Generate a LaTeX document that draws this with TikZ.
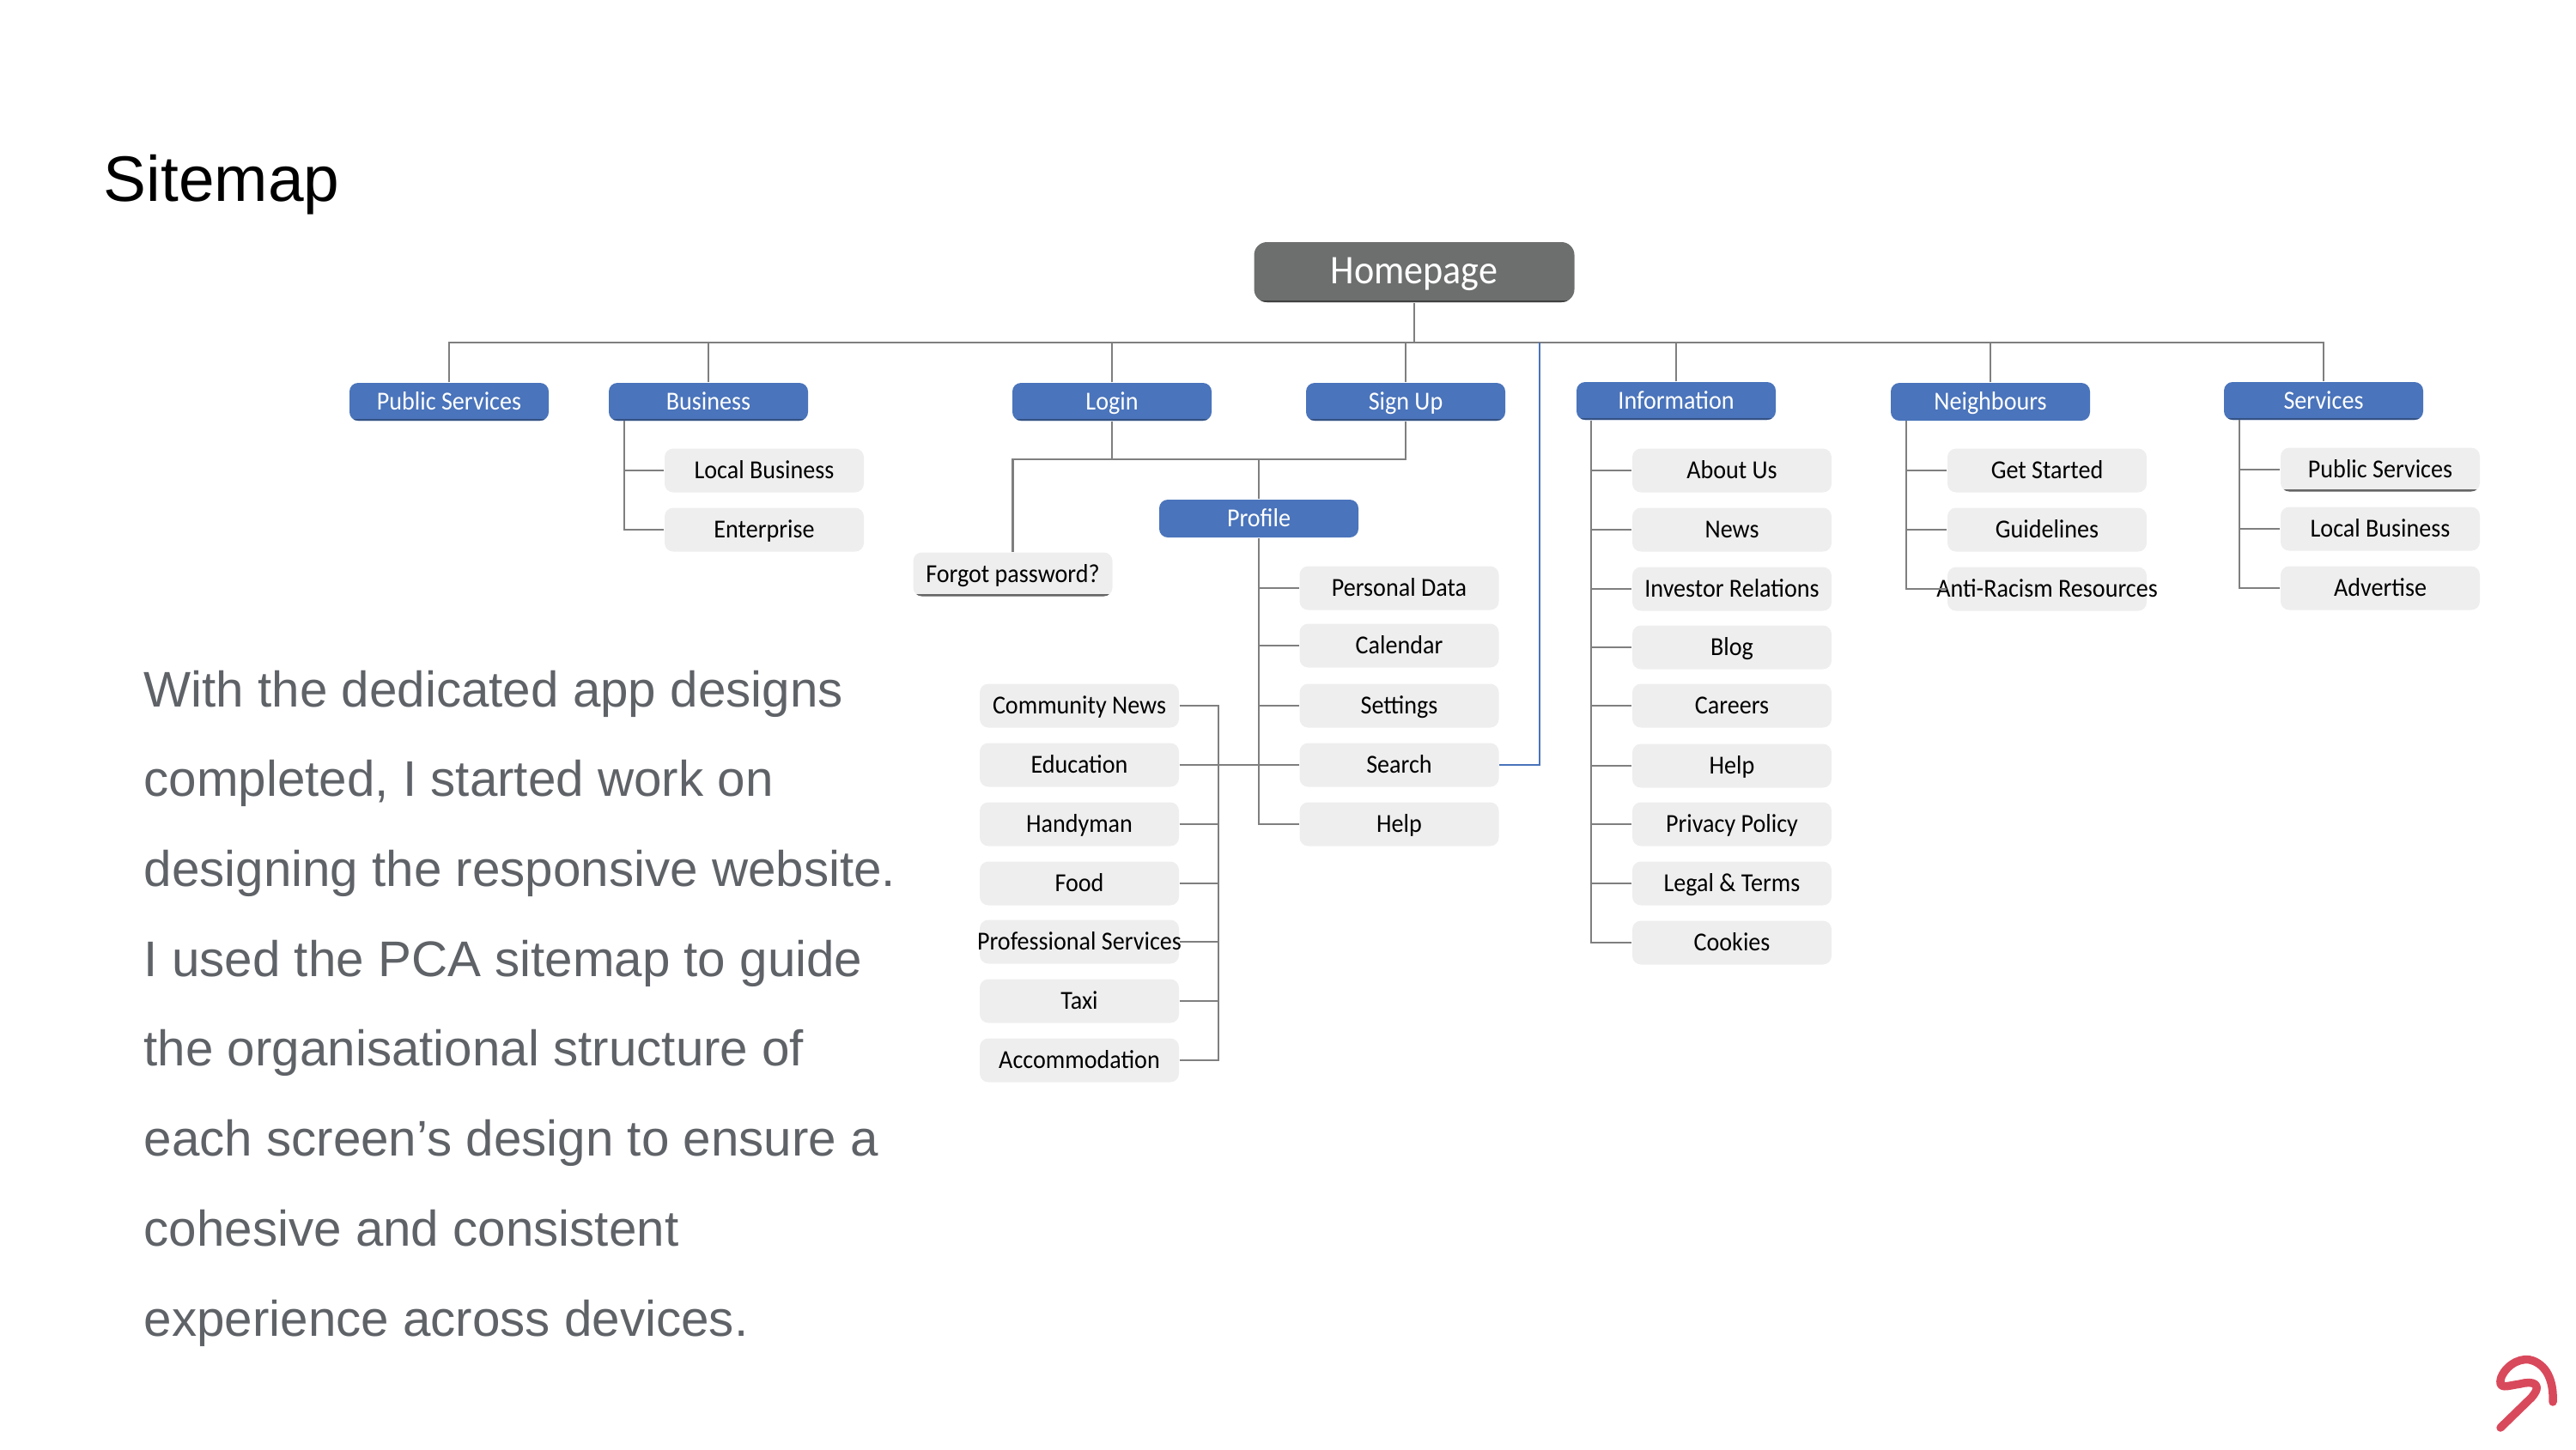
\documentclass[tikz,border=0pt]{standalone}
\usepackage{fontspec}
\setmainfont{Liberation Sans}
\newfontfamily\sitefont[FakeStretch=0.93]{Carlito}
\usetikzlibrary{positioning, calc}
\definecolor{homegray}{HTML}{6D6F6E}
\definecolor{secblue}{HTML}{4A74BB}
\definecolor{leafgray}{HTML}{EEEEEE}
\definecolor{linegray}{HTML}{7F7F7F}
\definecolor{bodygray}{HTML}{5F6368}
\definecolor{logored}{HTML}{D9495C}

\begin{document}
\begin{tikzpicture}[
    box/.style = {rounded corners=0.1cm, inner sep=0pt, minimum width=2.32cm, font=\sitefont\fontsize{8.6}{10}\selectfont, text height=1.55ex, text depth=0.58ex},
    home/.style = {box, fill=homegray, text=white, minimum width=3.73cm, minimum height=0.7cm, rounded corners=0.15cm, font=\sitefont\fontsize{13.5}{15}\selectfont, text depth=0.12ex},
    sec/.style = {box, fill=secblue, text=white, minimum height=0.44cm},
    leaf/.style = {box, fill=leafgray, text=black, minimum height=0.51cm},
    underl/.style = {path picture={\draw[#1, line width=1.2pt] (path picture bounding box.south west) -- (path picture bounding box.south east);}},
    conn/.style = {draw=linegray, line width=0.75pt},
    connb/.style = {draw=secblue, line width=0.75pt}
]
\useasboundingbox (0,0) rectangle (30,-16.88);

% Title and text
\node[anchor=west, inner sep=0pt, font=\fontsize{21.3}{24}\selectfont] (title) at (1.20,-2.15) {Sitemap};
\node[anchor=north west, inner sep=0pt, align=left, text=bodygray, font=\fontsize{16.6}{29.8}\selectfont] (body) at (1.67,-7.80) {With the dedicated app designs\\completed, I started work on\\designing the responsive website.\\I used the PCA sitemap to guide\\the organisational structure of\\each screen’s design to ensure a\\cohesive and consistent\\experience across devices.};

% Top row
\node[home, underl=black!75] (homepage) at (16.47,-3.17) {Homepage};
\coordinate (top) at (16.47,-3.99);
\node[sec, underl=secblue!70!black] (pubs) at (5.23,-4.68) {Public Services};
\node[sec, underl=secblue!70!black] (bus) at (8.25,-4.68) {Business};
\node[sec, underl=secblue!70!black] (login) at (12.95,-4.68) {Login};
\node[sec, underl=secblue!70!black] (signup) at (16.37,-4.68) {Sign Up};
\node[sec, underl=secblue!70!black] (info) at (19.52,-4.67) {Information};
\node[sec] (neigh) at (23.18,-4.68) {Neighbours};
\node[sec, underl=secblue!70!black] (serv) at (27.06,-4.67) {Services};

\draw[conn] (homepage) -- (top);
\draw[conn] (pubs.north) |- (top);
\draw[conn] (bus.north) |- (top);
\draw[conn] (login.north) |- (top);
\draw[conn] (signup.north) |- (top);
\draw[conn] (info.north) |- (top);
\draw[conn] (neigh.north) |- (top);
\draw[conn] (serv.north) |- (top);

% Business
\coordinate (bust) at (7.27,-4.90);
\node[leaf] (buslocal) at (8.90,-5.48) {Local Business};
\node[leaf] (busent) at (8.90,-6.17) {Enterprise};
\draw[conn] (buslocal.west) -| (bust);
\draw[conn] (busent.west) -| (bust);

% Login and sign up
\coordinate (join) at (14.66,-5.35);
\node[sec] (profile) at (14.66,-6.04) {Profile};
\node[leaf, underl=black!60] (forgot) at (11.795,-6.69) {Forgot password?};
\draw[conn] (login.south) |- (join);
\draw[conn] (signup.south) |- (join);
\draw[conn] (forgot.north) |- (join);
\draw[conn] (profile.north) -- (join);

% Profile
\node[leaf] (pdata) at (16.295,-6.85) {Personal Data};
\node[leaf] (cal) at (16.295,-7.52) {Calendar};
\node[leaf] (sett) at (16.295,-8.22) {Settings};
\node[leaf] (search) at (16.295,-8.91) {Search};
\node[leaf] (phelp) at (16.295,-9.60) {Help};
\draw[conn] (pdata.west) -| (profile.south);
\draw[conn] (cal.west) -| (profile.south);
\draw[conn] (sett.west) -| (profile.south);
\draw[conn] (phelp.west) -| (profile.south);

% Community
\coordinate (comt) at (14.19,-8.23);
\node[leaf] (news) at (12.57,-8.22) {Community News};
\node[leaf] (edu) at (12.57,-8.91) {Education};
\node[leaf] (handy) at (12.57,-9.60) {Handyman};
\node[leaf] (food) at (12.57,-10.29) {Food};
\node[leaf] (prof) at (12.57,-10.97) {\makebox[0pt]{Professional Services}};
\node[leaf] (taxi) at (12.57,-11.66) {Taxi};
\node[leaf] (accom) at (12.57,-12.35) {Accommodation};
\draw[conn] (news.east) -| (comt);
\draw[conn] (handy.east) -| (comt);
\draw[conn] (food.east) -| (comt);
\draw[conn] (prof.east) -| (comt);
\draw[conn] (taxi.east) -| (comt);
\draw[conn] (accom.east) -| (comt);
\draw[conn] (edu.east) -- (search.west);

% Search goes back up
\coordinate (backup) at (17.93,-3.99);
\draw[connb] (search.east) -| (backup);

% Information
\coordinate (inft) at (18.53,-4.90);
\node[leaf] (about) at (20.17,-5.48) {About Us};
\node[leaf] (infnews) at (20.17,-6.17) {News};
\node[leaf] (invest) at (20.17,-6.86) {Investor Relations};
\node[leaf] (blog) at (20.17,-7.54) {Blog};
\node[leaf] (careers) at (20.17,-8.22) {Careers};
\node[leaf] (infhelp) at (20.17,-8.92) {Help};
\node[leaf] (priv) at (20.17,-9.60) {Privacy Policy};
\node[leaf] (legal) at (20.17,-10.29) {Legal \& Terms};
\node[leaf] (cook) at (20.17,-10.98) {Cookies};
\draw[conn] (about.west) -| (inft);
\draw[conn] (infnews.west) -| (inft);
\draw[conn] (invest.west) -| (inft);
\draw[conn] (blog.west) -| (inft);
\draw[conn] (careers.west) -| (inft);
\draw[conn] (infhelp.west) -| (inft);
\draw[conn] (priv.west) -| (inft);
\draw[conn] (legal.west) -| (inft);
\draw[conn] (cook.west) -| (inft);

% Neighbours
\coordinate (neit) at (22.20,-4.90);
\node[leaf] (start) at (23.84,-5.48) {Get Started};
\node[leaf] (guide) at (23.84,-6.17) {Guidelines};
\node[leaf] (anti) at (23.84,-6.86) {\makebox[0pt]{Anti-Racism Resources}};
\draw[conn] (start.west) -| (neit);
\draw[conn] (guide.west) -| (neit);
\draw[conn] (anti.west) -| (neit);

% Services
\coordinate (sert) at (26.08,-4.89);
\node[leaf, underl=black!60] (serpub) at (27.72,-5.47) {Public Services};
\node[leaf] (serloc) at (27.72,-6.16) {Local Business};
\node[leaf] (adv) at (27.72,-6.85) {Advertise};
\draw[conn] (serpub.west) -| (sert);
\draw[conn] (serloc.west) -| (sert);
\draw[conn] (adv.west) -| (sert);

% Logo
\draw[logored, line width=2.7pt, line cap=round, line join=round] (29.12,-16.63) -- (29.48,-16.28) .. controls (29.62,-16.12) and (29.50,-16.08) .. (29.35,-16.12) .. controls (29.20,-16.14) and (29.08,-16.20) .. (29.13,-16.04) .. controls (29.20,-15.88) and (29.38,-15.80) .. (29.50,-15.85) .. controls (29.68,-15.92) and (29.74,-16.12) .. (29.73,-16.33);

\end{tikzpicture}
\end{document}
